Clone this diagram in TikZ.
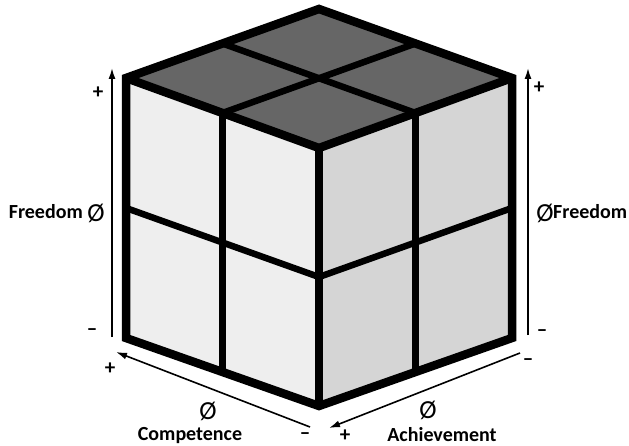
\documentclass[tikz,border=0pt]{standalone}
\usepackage{fontspec}
\setmainfont{Carlito}
\usepackage{tikz}
\usetikzlibrary{arrows.meta,calc}
\definecolor{cubetop}{HTML}{666666}
\definecolor{cubeleft}{HTML}{EEEEEE}
\definecolor{cuberight}{HTML}{D5D5D5}

\begin{document}
\begin{tikzpicture}[
  x=1pt,y=-1pt,
  edge/.style={line width=8.5pt,line join=miter,draw=black},
  divider/.style={line width=6.5pt,draw=black},
  axis/.style={-{Latex[length=11pt,width=7pt]},line width=1.6pt},
  sign/.style={font=\bfseries\fontsize{21}{21}\selectfont,inner sep=0pt},
  label/.style={font=\bfseries\fontsize{20}{22}\selectfont,inner sep=0pt},
  zero/.style={font=\fontsize{26}{26}\selectfont,inner sep=0pt}
]
\useasboundingbox (0,0) rectangle (629,446);
% cube corners
\coordinate (T) at (319,9);
\coordinate (L) at (126,78);
\coordinate (R) at (512,78);
\coordinate (F) at (319,148);
\coordinate (LB) at (126,338);
\coordinate (RB) at (512,338);
\coordinate (FB) at (319,406);
% faces
\fill[cubetop] (T) -- (L) -- (F) -- (R) -- cycle;
\fill[cubeleft] (L) -- (F) -- (FB) -- (LB) -- cycle;
\fill[cuberight] (F) -- (R) -- (RB) -- (FB) -- cycle;
% dividers
\draw[divider] ($(T)!0.5!(L)$) -- ($(R)!0.5!(F)$);
\draw[divider] ($(T)!0.5!(R)$) -- ($(L)!0.5!(F)$);
\draw[divider] ($(L)!0.5!(F)$) -- ($(LB)!0.5!(FB)$);
\draw[divider] ($(L)!0.5!(LB)$) -- ($(F)!0.5!(FB)$);
\draw[divider] ($(F)!0.5!(R)$) -- ($(FB)!0.5!(RB)$);
\draw[divider] ($(F)!0.5!(FB)$) -- ($(R)!0.5!(RB)$);
% outline
\draw[edge] (T) -- (L) -- (LB) -- (FB) -- (RB) -- (R) -- cycle;
\draw[edge] (L) -- (F) -- (R);
\draw[edge] (F) -- (FB);

% axes
\coordinate (lfrom) at (112,337);
\coordinate (lto) at (112,68);
\coordinate (rfrom) at (528,335);
\coordinate (rto) at (528,68);
\coordinate (cfrom) at (310,427);
\coordinate (cto) at (116,352);
\coordinate (afrom) at (520,353);
\coordinate (ato) at (329,428);
\draw[axis] (lfrom) -- (lto);
\draw[axis] (rfrom) -- (rto);
\draw[axis] (cfrom) -- (cto);
\draw[axis] (afrom) -- (ato);

% signs and labels
\node[sign] (lplus) at (98,93) {+};
\node[sign] (lminus) at (92,332) {–};
\node[label,anchor=base east] (lfree) at (83,219) {Freedom};
\node[zero] (lzero) at (96,213) {Ø};
\node[sign] (rplus) at (539,88) {+};
\node[sign] (rminus) at (542,333) {–};
\node[zero] (rzero) at (545,213) {Ø};
\node[label,anchor=base west] (rfree) at (553,219) {Freedom};
\node[sign] (cplus) at (110,369) {+};
\node[sign] (cminus) at (305,436) {–};
\node[zero] (czero) at (208,411) {Ø};
\node[label,anchor=base] (comp) at (190,440) {Competence};
\node[sign] (aplus) at (345,436) {+};
\node[sign] (aminus) at (528,362) {–};
\node[zero] (azero) at (428,410) {Ø};
\node[label,anchor=base] (ach) at (442,441) {Achievement};
\end{tikzpicture}
\end{document}
